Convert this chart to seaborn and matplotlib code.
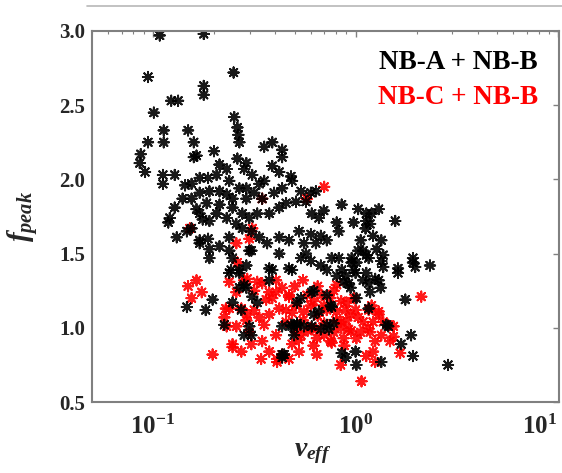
import numpy as np
import pandas as pd
import matplotlib
matplotlib.use("Agg")
import matplotlib.pyplot as plt
from matplotlib.lines import Line2D
import matplotlib.ticker as mticker
import matplotlib.transforms as mtransforms
import seaborn as sns

# ---- data ----
nu_ab = [0.108, 0.178, 0.0945, 0.25, 0.178, 0.178, 0.123, 0.133, 0.101, 0.252, 0.261, 0.264,
         0.149, 0.113, 0.0945, 0.113, 0.159, 0.354, 0.388, 0.087, 0.086, 0.0914, 0.112, 0.112,
         0.128, 0.159, 0.164, 0.20, 0.434, 0.434,
         0.261, 0.289, 0.144, 0.155, 0.17, 0.187, 0.213, 0.231, 0.14, 0.155, 0.17, 0.19,
         0.213, 0.231, 0.247, 0.213, 0.164, 0.184, 0.128, 0.121, 0.119, 0.17, 0.206, 0.19,
         0.176, 0.147, 0.131, 0.155, 0.17, 0.187, 0.213, 0.238, 0.258, 0.231, 0.276, 0.247,
         0.289, 0.267, 0.238, 0.206, 0.19, 0.247,
         0.267, 0.42, 0.48, 0.486, 0.538, 0.602, 0.637, 0.569, 0.508, 0.454, 0.608, 0.659,
         0.697, 0.854, 1.03, 1.13, 0.807, 0.826, 0.978, 0.526, 0.602, 0.674, 0.721, 0.637,
         0.556, 0.469, 0.42, 0.366, 0.335, 0.306, 0.276, 0.299, 0.327, 0.375, 0.42, 0.346,
         0.316, 0.289, 0.335, 0.309, 0.282, 0.388, 0.354, 0.396, 0.434, 0.956, 0.762, 0.569,
         0.42, 0.299, 1.06, 1.12,
         1.20, 1.30, 1.13, 1.18, 1.57, 1.22, 1.34, 1.09, 1.16, 1.27, 1.37, 1.92,
         2.33, 1.92, 1.97, 1.62, 1.62, 1.03, 1.13, 0.956, 0.854, 1.0, 1.13, 1.30, 1.16,
         0.924, 1.76, 1.01, 0.762, 0.608, 1.45, 1.88, 1.68, 1.92, 1.34, 1.01, 2.86, 0.854,
         0.893, 0.738, 0.608, 0.486, 0.444, 0.514,
         1.42, 1.0, 1.16, 1.33, 1.18, 1.25, 1.09, 0.978, 0.893, 1.34, 1.37, 1.01, 0.826,
         0.78, 0.721, 0.622, 0.659, 0.754, 0.721, 0.622, 0.538, 0.514, 0.514, 0.556, 0.674,
         0.538, 0.602, 0.674, 0.721, 0.807, 0.873, 0.945,
         0.147, 0.182, 0.197, 0.243, 0.267, 0.247, 0.273, 0.225, 0.299, 0.306, 0.282, 0.375,
         0.388, 0.469, 0.375, 0.327, 0.309, 0.434, 0.434, 0.48, 0.497, 0.282, 0.289,
         0.19, 0.17, 0.238, 0.267, 0.289, 0.306, 0.238, 0.267, 0.486, 0.434]
f_ab = [2.97, 2.98, 2.69, 2.72, 2.63, 2.57, 2.53, 2.53, 2.45, 2.42, 2.35, 2.30,
        2.33, 2.33, 2.25, 2.25, 2.25, 2.22, 2.25, 2.17, 2.11, 2.05, 2.03, 1.97,
        2.03, 2.15, 2.16, 2.19, 2.20, 2.15,
        2.14, 2.11, 1.96, 1.97, 2.01, 2.01, 2.10, 2.07, 1.87, 1.87, 1.91, 1.92,
        1.92, 1.90, 1.87, 1.83, 1.80, 1.84, 1.81, 1.74, 1.71, 1.77, 1.77, 1.72,
        1.73, 1.65, 1.61, 1.67, 1.59, 1.60, 1.55, 1.61, 1.70, 1.74, 1.77, 1.81,
        1.87, 1.94, 1.99, 2.03, 1.47, 1.47,
        2.25, 2.05, 2.02, 1.99, 1.92, 1.91, 1.92, 1.85, 1.85, 1.84, 1.77, 1.74,
        1.79, 1.83, 1.80, 1.77, 1.71, 1.65, 1.71, 1.65, 1.63, 1.62, 1.59, 1.57,
        1.57, 1.59, 1.61, 1.57, 1.61, 1.65, 1.67, 1.74, 1.77, 1.77, 1.81, 1.87,
        1.91, 1.94, 1.97, 2.03, 2.07, 2.09, 1.99, 1.91, 1.94, 1.47, 1.47, 1.50,
        1.50, 1.52, 1.59, 1.67,
        1.77, 1.80, 1.72, 1.70, 1.72, 1.62, 1.59, 1.52, 1.47, 1.53, 1.49, 1.47,
        1.42, 1.44, 1.41, 1.40, 1.37, 1.52, 1.49, 1.44, 1.39, 1.37, 1.37, 1.32, 1.30,
        1.30, 1.19, 1.20, 1.14, 1.24, 1.01, 0.95, 0.89, 0.81, 0.77, 0.75, 0.75, 0.83,
        0.80, 0.99, 1.01, 1.01, 0.82, 1.03,
        1.02, 0.84, 1.13, 1.27, 1.24, 1.33, 1.32, 1.39, 1.35, 1.45, 1.41, 1.44, 1.47,
        1.03, 1.02, 1.09, 1.11, 1.15, 1.22, 1.25, 1.20, 1.17, 1.02, 1.01, 0.99,
        1.47, 1.45, 1.42, 1.39, 1.35, 1.31, 1.27,
        1.14, 1.12, 1.19, 1.39, 1.37, 1.17, 1.12, 1.02, 1.01, 0.95, 0.95, 1.40,
        1.39, 1.40, 1.32, 1.17, 1.21, 0.82, 0.80, 1.02, 0.95, 1.29, 1.27,
        1.53, 1.57, 1.52, 1.39, 1.42, 1.52, 1.37, 1.27, 1.39, 1.01]

nu_cb = [0.152, 0.346, 0.70, 0.575, 0.309, 0.299, 0.258,
         0.149, 0.164, 0.174, 0.155, 0.197, 0.247, 0.273, 0.306, 0.229, 0.225, 0.258, 0.299,
         0.346, 0.342, 0.41, 0.354, 0.335, 0.375, 0.292, 0.273, 0.258, 0.238, 0.261, 0.292,
         0.327, 0.375, 0.388, 0.434, 0.469, 0.42, 0.508, 0.454, 0.508, 0.405, 0.486, 0.375,
         0.434, 0.238, 0.231, 0.289, 0.316, 0.362, 0.405, 0.316, 0.346, 0.282, 0.405, 0.469,
         0.486, 0.41, 0.247,
         2.11, 0.807, 1.07, 1.25, 1.13, 1.66, 1.54, 1.45, 1.30, 1.16, 1.03, 0.893, 0.924,
         0.762, 0.644, 0.469, 0.637, 0.526, 0.454, 1.18, 1.34, 1.25, 1.48, 1.22, 0.844,
         0.526, 0.754, 0.873, 1.01, 1.09, 0.945, 0.844, 0.903, 0.807, 0.697, 0.602, 0.575,
         0.556, 0.644, 0.538, 1.30, 1.22, 1.37, 1.54, 1.06, 0.78,
         0.55, 0.60, 0.65, 0.70, 0.72, 0.75, 0.80, 0.85, 0.90, 0.95, 1.00, 0.62, 0.68,
         0.58, 0.85, 0.78, 0.50, 0.55, 0.65, 1.15, 1.20, 0.98, 0.88, 0.70, 0.62]
f_cb = [1.67, 1.87, 1.95, 1.87, 1.67, 1.60, 1.57,
        1.28, 1.32, 1.24, 1.20, 0.82, 0.89, 0.84, 0.89, 1.13, 1.07, 1.01, 0.97,
        0.91, 0.79, 0.77, 1.02, 1.07, 1.09, 1.09, 1.13, 1.24, 1.31, 1.44, 1.33,
        1.31, 1.24, 1.20, 1.27, 1.22, 1.13, 1.15, 1.04, 0.97, 0.95, 0.89, 0.84,
        0.82, 1.13, 1.01, 1.05, 1.12, 1.19, 1.24, 1.25, 1.30, 1.32, 1.32, 1.21,
        1.10, 0.79, 0.87,
        1.21, 1.29, 0.64, 0.77, 0.81, 0.83, 0.94, 1.02, 1.09, 1.12, 1.07, 1.12, 0.99,
        0.90, 0.82, 0.79, 0.99, 0.92, 1.12, 0.97, 0.95, 0.91, 0.91, 0.84, 0.75,
        0.84, 0.91, 0.93, 0.93, 1.04, 1.09, 1.04, 1.17, 1.11, 1.15, 1.15, 1.22,
        1.11, 0.93, 0.95, 1.11, 1.04, 1.04, 1.01, 0.97, 0.97,
        1.05, 1.00, 1.08, 1.03, 1.12, 1.20, 1.05, 1.00, 1.05, 0.98, 1.12, 1.18, 1.22,
        0.98, 1.18, 1.25, 1.28, 1.32, 1.28, 1.00, 1.15, 1.20, 0.88, 0.95, 0.88]

groups = ["NB-C + NB-B", "NB-A + NB-B"]
colors = ["#ff0000", "#000000"]
x_ticks = [0.1, 1, 10]
x_tick_labels = [r"$\mathbf{10^{-1}}$", r"$\mathbf{10^{0}}$", r"$\mathbf{10^{1}}$"]
y_ticks = [0.5, 1.0, 1.5, 2.0, 2.5, 3.0]

df = pd.concat([
    pd.DataFrame({"nu": nu_cb, "f": f_cb, "grp": groups[0]}),
    pd.DataFrame({"nu": nu_ab, "f": f_ab, "grp": groups[1]}),
], ignore_index=True)

sns.set_theme(style="white")
plt.rcParams["font.family"] = ["Liberation Serif", "DejaVu Serif"]
plt.rcParams["mathtext.fontset"] = "custom"
plt.rcParams["mathtext.rm"] = "Liberation Serif:bold"
plt.rcParams["mathtext.bf"] = "Liberation Serif:bold"
plt.rcParams["mathtext.it"] = "Liberation Serif:bold:italic"

fig = plt.figure(figsize=(5.62, 4.73), dpi=100)
ax = fig.add_axes([0.1637, 0.150, 0.831, 0.7845])

sns.scatterplot(data=df, x="nu", y="f", hue="grp", hue_order=groups,
                palette=dict(zip(groups, colors)), marker=(8, 2, 0), s=55,
                linewidth=1.4, alpha=0.9, legend=False, ax=ax)

ax.set_xscale("log")
ax.set_xlim(0.05, 10.1)
ax.set_ylim(0.5, 3.0)
ax.set_xticks(x_ticks)
ax.set_xticklabels(x_tick_labels, fontsize=18)
ax.xaxis.set_minor_locator(mticker.LogLocator(base=10, subs=np.arange(2, 10)))
ax.xaxis.set_minor_formatter(mticker.NullFormatter())
ax.set_yticks(y_ticks)
ax.set_yticklabels([f"{v:.1f}" for v in y_ticks], fontsize=15, fontweight="bold")

ax.tick_params(axis="both", which="major", direction="in", length=4, width=1,
               color="#808080", top=True, right=True)
ax.tick_params(axis="x", which="major", pad=9)
ax.tick_params(axis="y", which="major", pad=5)
ax.tick_params(axis="x", which="minor", direction="in", length=2, width=0.8,
               color="#808080", top=True)
for sp in ax.spines.values():
    sp.set_color("#808080")
    sp.set_linewidth(1.5)

# keep the last x tick label inside the figure (as in the reference)
last = ax.xaxis.get_major_ticks()[-1].label1
last.set_transform(last.get_transform() +
                   mtransforms.ScaledTranslation(-19 / 100, 0, fig.dpi_scale_trans))

ax.set_xlabel(r"$\nu_{eff}$", fontsize=20)
ax.set_ylabel(r"$f_{peak}$", fontsize=21)
ax.xaxis.set_label_coords(0.473, -0.105)
ax.yaxis.set_label_coords(-0.11, 0.5)

ax.text(0.955, 0.916, "NB-A + NB-B", transform=ax.transAxes, ha="right", va="center",
        fontsize=19.5, fontweight="bold", color="#000000")
ax.text(0.955, 0.822, "NB-C + NB-B", transform=ax.transAxes, ha="right", va="center",
        fontsize=19.5, fontweight="bold", color="#ff0000")

fig.add_artist(Line2D([87 / 562, 1.0], [1 - 6 / 473, 1 - 6 / 473],
                      transform=fig.transFigure, color="#b8b8b8", linewidth=1.2))

fig.savefig("out.png", dpi=100)
